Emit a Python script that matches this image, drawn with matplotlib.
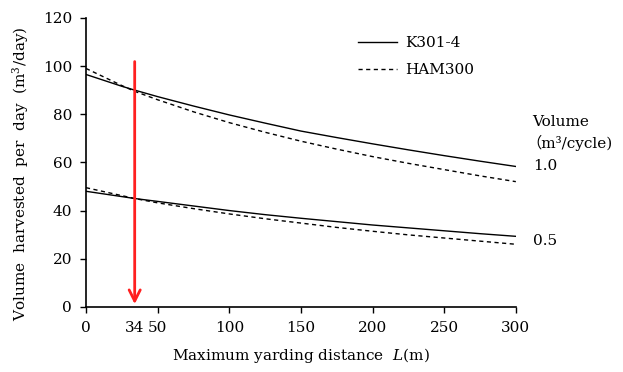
import numpy as np
import matplotlib.pyplot as plt

plt.rcParams['font.family'] = ['DejaVu Serif', 'Noto Sans CJK JP']
plt.rcParams['mathtext.fontset'] = 'dejavuserif'

dist = [0, 25, 34, 50, 75, 100, 125, 150, 175, 200, 225, 250, 275, 300]
k301_10 = [96.5, 91.6, 90, 87.3, 83.4, 79.7, 76.3, 73, 70.3, 67.7, 65.2, 62.8, 60.5, 58.3]
ham_10 = [99, 91.9, 89.5, 86, 81, 76.5, 72.5, 68.8, 65.5, 62.4, 59.6, 57, 54.4, 52]
k301_05 = [48, 45.8, 45, 43.8, 41.9, 40, 38.3, 36.8, 35.4, 34, 32.8, 31.6, 30.4, 29.3]
ham_05 = [49.5, 46.2, 45, 43.2, 40.8, 38.6, 36.6, 34.8, 33, 31.4, 29.9, 28.6, 27.3, 26]

xticks = [0, 50, 100, 150, 200, 250, 300]
yticks = [0, 20, 40, 60, 80, 100, 120]
arrow_x = 34
arrow_top = 103

fig = plt.figure(figsize=(6.23, 3.72), dpi=100)
ax = fig.add_axes([0.138, 0.175, 0.690, 0.777])

ax.plot(dist, k301_10, color='black', lw=1.0, label='K301-4')
ax.plot(dist, ham_10, color='black', lw=1.0, ls=(0, (3, 2.5)), label='HAM300')
ax.plot(dist, k301_05, color='black', lw=1.0)
ax.plot(dist, ham_05, color='black', lw=1.0, ls=(0, (3, 2.5)))

ax.annotate('', xy=(arrow_x, 0), xytext=(arrow_x, arrow_top),
            arrowprops=dict(arrowstyle='->', color='#ff2020', lw=2,
                            mutation_scale=20))

ax.set_xlim(0, 300)
ax.set_ylim(0, 120)
ax.set_xticks(xticks)
ax.set_yticks(yticks)
# 34 is labelled without a tick mark
ax.set_xticks([arrow_x], minor=True)
ax.set_xticklabels(['34'], minor=True)
ax.tick_params(axis='x', which='minor', length=0, labelsize=11, pad=10)
ax.tick_params(which='major', direction='out', length=4, width=1, labelsize=11, pad=6)
for s in ['top', 'right']:
    ax.spines[s].set_visible(False)
ax.spines['left'].set_linewidth(1.2)
ax.spines['bottom'].set_linewidth(1.2)

ax.set_xlabel('Maximum yarding distance  $L$(m)', fontsize=11, labelpad=8)
ax.set_ylabel('Volume  harvested  per  day  (m$^3$/day)', fontsize=11)
ax.yaxis.set_label_coords(-0.128, 0.46)

ax.legend(loc='upper left', bbox_to_anchor=(0.6, 0.985), frameon=False,
          fontsize=11, handlelength=2.6, handletextpad=0.5,
          labelspacing=0.85)

fig.text(0.854, 0.672, 'Volume', fontsize=11, va='center')
fig.text(0.845, 0.616, '（m³/cycle)', fontsize=11, va='center')
ax.text(312, 58.5, '1.0', fontsize=11, va='center', ha='left', clip_on=False)
ax.text(312, 27.4, '0.5', fontsize=11, va='center', ha='left', clip_on=False)

fig.savefig('out.png', dpi=100)
